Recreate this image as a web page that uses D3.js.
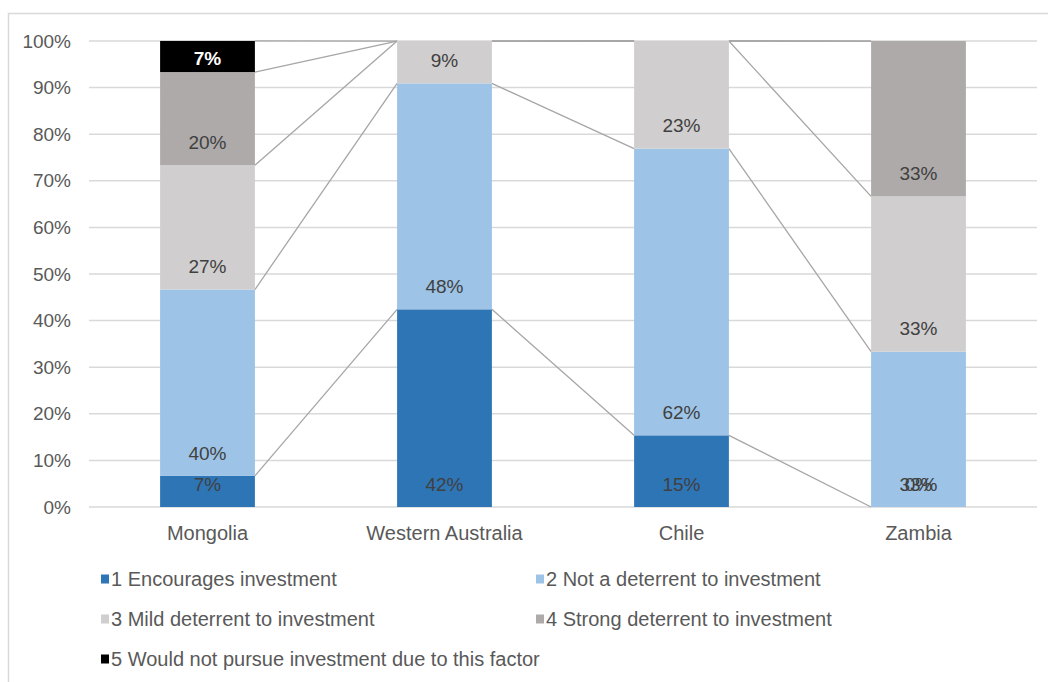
<html lang="en">
<head>
    <meta charset="utf-8">
    <title>Investment deterrent by jurisdiction</title>
    <script src="https://d3js.org/d3.v7.min.js"></script>
    <style>
        body { margin: 0; background: #fff; }
        text { font-family: "Liberation Sans", Arial, sans-serif; }
    </style>
</head>
<body>
<svg class="chart"></svg>
<script>
    'use strict';

    // data
    var categories = ["Mongolia", "Western Australia", "Chile", "Zambia"];
    var seriesNames = [
        "1 Encourages investment",
        "2 Not a deterrent to investment",
        "3 Mild deterrent to investment",
        "4 Strong deterrent to investment",
        "5 Would not pursue investment due to this factor"
    ];
    // percent values per category; null = blank cell (no label)
    var encourages = [6.67, 42.42, 15.38, 0];
    var notDeterrent = [40, 48.48, 61.54, 33.33];
    var mildDeterrent = [26.67, 9.09, 23.08, 33.33];
    var strongDeterrent = [20, null, null, 33.33];
    var wouldNotPursue = [6.67, null, null, null];
    var yTicks = [0, 10, 20, 30, 40, 50, 60, 70, 80, 90, 100];

    var seriesValues = [encourages, notDeterrent, mildDeterrent, strongDeterrent, wouldNotPursue];
    var colors = ["#2e75b6", "#9dc3e6", "#d0cece", "#aeaaaa", "#000000"];

    var width = 1048, height = 682;
    var svg = d3.select(".chart").attr("width", width).attr("height", height);

    // outer frame
    svg.append("rect")
        .attr("x", 8.5).attr("y", 13.5)
        .attr("width", 1100).attr("height", 700)
        .attr("fill", "none")
        .attr("stroke", "#d9d9d9")
        .attr("stroke-width", 1.5);

    var x = d3.scaleBand()
        .domain(categories)
        .range([89, 1037])
        .paddingInner(0.6)
        .paddingOuter(0.3);

    var y = d3.scaleLinear().domain([0, 100]).range([507, 41]);

    // build stacked table
    var table = categories.map(function (c, i) {
        var row = {category: c};
        seriesNames.forEach(function (s, k) { row[s] = seriesValues[k][i] || 0; });
        return row;
    });
    var stacked = d3.stack().keys(seriesNames)(table);

    // gridlines
    svg.append("g").selectAll("line")
        .data(yTicks)
        .enter().append("line")
        .attr("x1", 89).attr("x2", 1037)
        .attr("y1", function (d) { return y(d); })
        .attr("y2", function (d) { return y(d); })
        .attr("stroke", "#d9d9d9")
        .attr("stroke-width", 1.5);

    // y axis labels
    svg.append("g").selectAll("text")
        .data(yTicks)
        .enter().append("text")
        .attr("x", 71)
        .attr("y", function (d) { return y(d); })
        .attr("dy", "0.35em")
        .attr("text-anchor", "end")
        .attr("font-size", 19)
        .attr("fill", "#595959")
        .text(function (d) { return d + "%"; });

    // series lines between bars
    var seriesLines = [];
    stacked.forEach(function (layer) {
        for (var i = 0; i < categories.length - 1; i++) {
            seriesLines.push({
                x1: x(categories[i]) + x.bandwidth(), y1: y(layer[i][1]),
                x2: x(categories[i + 1]), y2: y(layer[i + 1][1])
            });
        }
    });
    svg.append("g").selectAll("line")
        .data(seriesLines)
        .enter().append("line")
        .attr("x1", function (d) { return d.x1; })
        .attr("y1", function (d) { return d.y1; })
        .attr("x2", function (d) { return d.x2; })
        .attr("y2", function (d) { return d.y2; })
        .attr("stroke", "#a6a6a6")
        .attr("stroke-width", 1.3);

    // bars
    var layers = svg.append("g").selectAll("g")
        .data(stacked)
        .enter().append("g")
        .attr("fill", function (d, k) { return colors[k]; });

    layers.selectAll("rect")
        .data(function (d) { return d; })
        .enter().append("rect")
        .attr("x", function (d) { return x(d.data.category); })
        .attr("y", function (d) { return y(d[1]); })
        .attr("width", x.bandwidth())
        .attr("height", function (d) { return y(d[0]) - y(d[1]); });

    // data labels (inside base)
    var labels = [];
    stacked.forEach(function (layer, k) {
        layer.forEach(function (d, i) {
            var v = seriesValues[k][i];
            if (v === null) return;
            labels.push({
                x: x(categories[i]) + x.bandwidth() / 2,
                y: Math.max(y(d[0]) - 23, y(100) + 17),
                text: Math.round(v) + "%",
                dark: k === 4
            });
        });
    });
    svg.append("g").selectAll("text")
        .data(labels)
        .enter().append("text")
        .attr("x", function (d) { return d.x; })
        .attr("y", function (d) { return d.y; })
        .attr("dy", "0.35em")
        .attr("text-anchor", "middle")
        .attr("font-size", 19)
        .attr("font-weight", function (d) { return d.dark ? "bold" : "normal"; })
        .attr("fill", function (d) { return d.dark ? "#ffffff" : "#404040"; })
        .text(function (d) { return d.text; });

    // category labels
    svg.append("g").selectAll("text")
        .data(categories)
        .enter().append("text")
        .attr("x", function (d) { return x(d) + x.bandwidth() / 2; })
        .attr("y", 533)
        .attr("dy", "0.35em")
        .attr("text-anchor", "middle")
        .attr("font-size", 20)
        .attr("fill", "#595959")
        .text(function (d) { return d; });

    // legend
    var legendPos = [[101, 579], [536, 579], [101, 619], [536, 619], [101, 659]];
    var legend = svg.append("g").selectAll("g")
        .data(seriesNames)
        .enter().append("g")
        .attr("transform", function (d, k) { return "translate(" + legendPos[k][0] + "," + legendPos[k][1] + ")"; });

    legend.append("rect")
        .attr("x", 0).attr("y", -4.5)
        .attr("width", 8).attr("height", 9)
        .attr("fill", function (d, k) { return colors[k]; });

    legend.append("text")
        .attr("x", 10)
        .attr("dy", "0.35em")
        .attr("font-size", 20)
        .attr("fill", "#595959")
        .text(function (d) { return d; });
</script>
</body>
</html>
